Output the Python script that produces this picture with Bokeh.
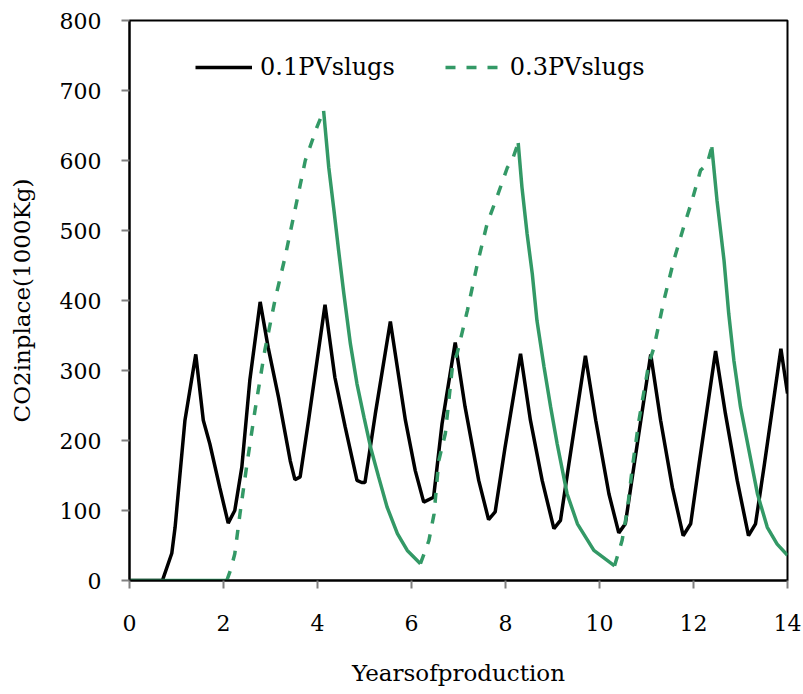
from bokeh.plotting import figure
from bokeh.models import Legend, LegendItem, FixedTicker
from bokeh.embed import file_html
from bokeh.resources import INLINE

# CO2 in place (1000 Kg) versus years of production
slug01_years = [0, 0.70, 0.90, 0.97, 1.18, 1.41, 1.57, 1.71, 1.92, 2.10, 2.24, 2.39, 2.56,
                2.78, 2.95, 3.17, 3.42, 3.52, 3.63, 3.81, 4.16, 4.37, 4.59, 4.84, 4.94,
                5.01, 5.23, 5.55, 5.87, 6.08, 6.26, 6.47, 6.65, 6.93, 7.14, 7.43, 7.64,
                7.78, 7.99, 8.32, 8.53, 8.78, 9.03, 9.17, 9.35, 9.70, 9.92, 10.20, 10.41,
                10.55, 10.73, 11.09, 11.30, 11.55, 11.78, 11.94, 12.12, 12.47, 12.68,
                12.93, 13.17, 13.32, 13.50, 13.86, 14.0]
slug01_co2 = [0, 0, 39, 76, 229, 323, 229, 195, 133, 82, 100, 162, 286,
              398, 333, 262, 171, 144, 148, 229, 394, 290, 219, 143, 140,
              140, 238, 370, 229, 157, 112, 119, 224, 340, 248, 143, 87,
              98, 190, 324, 229, 143, 74, 86, 167, 321, 229, 124, 68,
              81, 162, 323, 229, 133, 64, 81, 167, 328, 238,
              143, 64, 81, 162, 331, 267]

slug03_years = [0, 2.07, 2.15, 2.24, 2.35, 2.49, 2.67, 2.88, 3.10, 3.31, 3.52, 3.74, 3.99,
                4.13, 4.24, 4.35, 4.45, 4.56, 4.70, 4.84, 4.99, 5.13, 5.30, 5.48, 5.70,
                5.91, 6.19, 6.37, 6.48, 6.58, 6.72, 6.87, 6.97, 7.19, 7.40, 7.61, 7.82,
                8.04, 8.14, 8.27, 8.35, 8.46, 8.57, 8.67, 8.82, 8.96, 9.10, 9.31, 9.53,
                9.88, 10.32, 10.48, 10.59, 10.70, 10.84, 11.05, 11.16, 11.37, 11.58,
                11.79, 11.97, 12.15, 12.29, 12.39, 12.50, 12.65, 12.75, 12.86, 13.00,
                13.18, 13.36, 13.57, 13.78, 14.0]
slug03_co2 = [0, 0, 15, 38, 95, 162, 243, 329, 402, 462, 529, 600, 648,
              671, 590, 529, 471, 410, 338, 281, 233, 190, 148, 105, 67,
              43, 24, 57, 95, 171, 210, 305, 324, 386, 452, 510, 548,
              590, 600, 625, 562, 495, 438, 371, 305, 248, 195, 124, 81,
              43, 21, 57, 100, 162, 229, 310, 333, 400, 457,
              505, 543, 586, 595, 619, 543, 457, 381, 314, 248,
              186, 124, 76, 52, 36]

x_ticks = [0, 2, 4, 6, 8, 10, 12, 14]
y_ticks = [0, 100, 200, 300, 400, 500, 600, 700, 800]

BLACK = "#000000"
GREEN = "#339966"
FONT = "DejaVu Serif"

p = figure(frame_width=658, frame_height=560, x_range=(0, 14), y_range=(0, 800),
           output_backend="svg", toolbar_location=None,
           min_border_left=129, min_border_right=16, min_border_top=20, min_border_bottom=114)
p.background_fill_color = "white"
p.border_fill_color = "white"
p.grid.visible = False
p.outline_line_color = BLACK
p.outline_line_width = 2

for ax in (p.xaxis[0], p.yaxis[0]):
    ax.axis_line_color = BLACK
    ax.axis_line_width = 2
    ax.major_tick_line_color = "#808080"
    ax.major_tick_line_width = 2
    ax.major_tick_out = 8
    ax.major_tick_in = 0
    ax.minor_tick_line_color = None
    ax.major_label_text_font = FONT
    ax.major_label_text_font_size = "22px"
    ax.major_label_text_color = BLACK
    ax.axis_label_text_font = FONT
    ax.axis_label_text_font_size = "23px"
    ax.axis_label_text_font_style = "normal"
    ax.axis_label_text_color = BLACK

p.xaxis.ticker = FixedTicker(ticks=x_ticks)
p.yaxis.ticker = FixedTicker(ticks=y_ticks)
p.xaxis.axis_label = "Yearsofproduction"
p.yaxis.axis_label = "CO2inplace(1000Kg)"
p.xaxis.major_label_standoff = 26
p.xaxis.axis_label_standoff = 26
p.yaxis.major_label_standoff = 20
p.yaxis.axis_label_standoff = 22

# 0.1 PV slugs: solid black
r_black = p.line(slug01_years, slug01_co2, line_color=BLACK, line_width=3.5)

# 0.3 PV slugs: injection (rising) runs dashed, decline runs solid
dash_xs, dash_ys, solid_xs, solid_ys = [], [], [], []
run_x, run_y = [slug03_years[0]], [slug03_co2[0]]
run_rising = slug03_co2[1] > slug03_co2[0]
for i in range(1, len(slug03_years)):
    rising = slug03_co2[i] > slug03_co2[i - 1]
    if rising != run_rising:
        (dash_xs if run_rising else solid_xs).append(run_x)
        (dash_ys if run_rising else solid_ys).append(run_y)
        run_x, run_y = [slug03_years[i - 1]], [slug03_co2[i - 1]]
        run_rising = rising
    run_x.append(slug03_years[i])
    run_y.append(slug03_co2[i])
(dash_xs if run_rising else solid_xs).append(run_x)
(dash_ys if run_rising else solid_ys).append(run_y)

p.multi_line(solid_xs, solid_ys, line_color=GREEN, line_width=3.5)
r_green = p.multi_line(dash_xs, dash_ys, line_color=GREEN, line_width=3.5, line_dash="10 11")

legend = Legend(items=[LegendItem(label="0.1PVslugs", renderers=[r_black]),
                       LegendItem(label="0.3PVslugs", renderers=[r_green])],
                orientation="horizontal", location=(66, 499),
                glyph_width=57, glyph_height=24, label_standoff=8, spacing=50,
                padding=0, margin=0, border_line_alpha=0, background_fill_alpha=0,
                label_text_font=FONT, label_text_font_size="24px", label_text_color=BLACK)
p.add_layout(legend, "center")

open("out.html", "w").write(file_html(p, INLINE))
